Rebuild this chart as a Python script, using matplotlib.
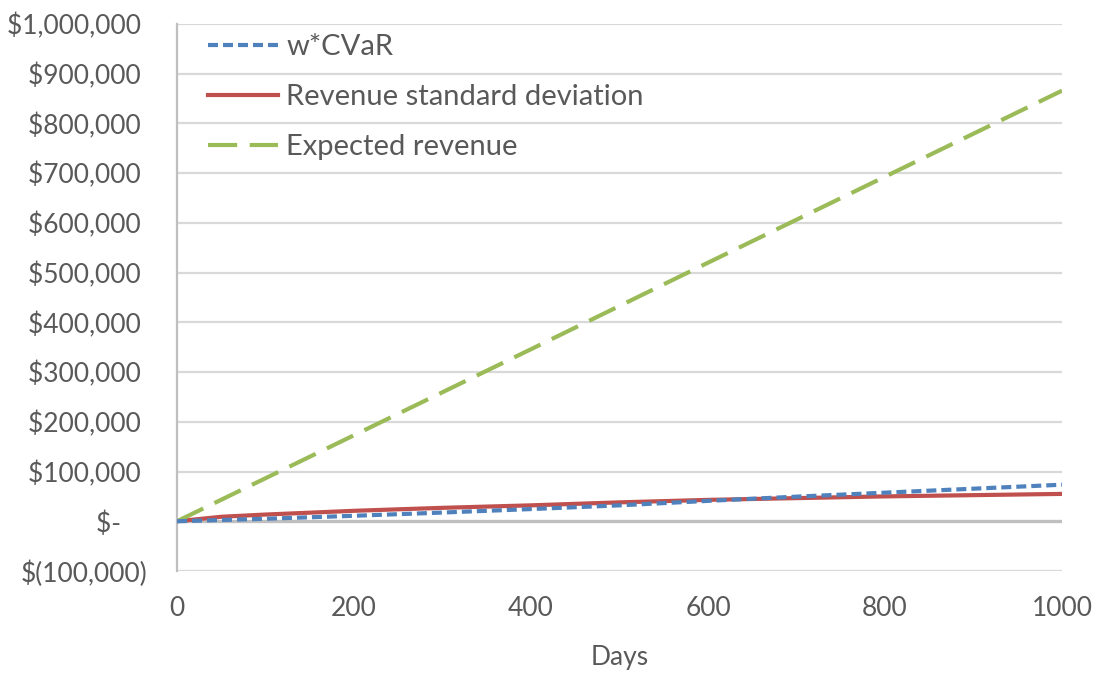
import numpy as np
import matplotlib
matplotlib.use('Agg')
import matplotlib.pyplot as plt
from matplotlib.ticker import FuncFormatter, MultipleLocator

plt.rcParams['font.family'] = ['Lato', 'DejaVu Sans']

# values
days = [0, 50, 100, 200, 300, 400, 500, 600, 700, 800, 900, 1000]
cvar = [0, 2500, 5000, 11000, 17500, 24500, 32000, 41000, 49500, 57500, 65500, 73500]
rev_std = [0, 9000, 13500, 21000, 27000, 32000, 38000, 43000, 46500, 50000, 52500, 55000]
exp_days = [0, 200, 400, 600, 800, 1000]
exp_rev = [0, 173000, 346000, 520000, 693000, 866000]

series_names = ["w*CVaR", "Revenue standard deviation", "Expected revenue"]
text_color = '#595959'


def money(v, pos):
    if abs(v) < 1:
        return "$-    "
    if v < 0:
        return "$({:,.0f})".format(-v)
    return "${:,.0f} ".format(v)


fig = plt.figure(figsize=(10.96, 6.73), dpi=100)
ax = fig.add_axes([0.1615, 0.1516, 0.969 - 0.1615, 0.9643 - 0.1516])

# horizontal gridlines, zero line a bit stronger
for yv in range(-100000, 1000001, 100000):
    if yv == 0:
        continue
    ax.axhline(yv, color='#d9d9d9', lw=1.6, zorder=0)
ax.axhline(0, color='#bfbfbf', lw=2.4, zorder=0.5)

ax.plot(days, cvar, color='#4f81bd', lw=3, dashes=(2.4, 1.2),
        label=series_names[0], zorder=3)
ax.plot(days, rev_std, color='#c0504d', lw=3, label=series_names[1], zorder=2)
ax.plot(exp_days, exp_rev, color='#9bbb59', lw=3, dashes=(7, 3),
        label=series_names[2], zorder=2)

ax.set_xlim(0, 1000)
ax.set_ylim(-100000, 1000000)
ax.xaxis.set_major_locator(MultipleLocator(200))
ax.yaxis.set_major_locator(MultipleLocator(100000))
ax.yaxis.set_major_formatter(FuncFormatter(money))

for s in ['top', 'right', 'bottom']:
    ax.spines[s].set_visible(False)
ax.spines['left'].set_color('#bfbfbf')
ax.spines['left'].set_linewidth(1.6)

ax.tick_params(axis='both', length=0, labelsize=19, labelcolor=text_color)
ax.tick_params(axis='y', pad=21)
ax.tick_params(axis='x', pad=18)

ax.set_xlabel("Days", fontsize=19, color=text_color, labelpad=17)

leg = ax.legend(loc='upper left', bbox_to_anchor=(0.024, 1.0), frameon=False,
                fontsize=21, handlelength=2.4, handletextpad=0.27,
                labelspacing=0.82, borderaxespad=0.05, borderpad=0.3)
for t in leg.get_texts():
    t.set_color(text_color)

fig.savefig("out.png", dpi=100)
